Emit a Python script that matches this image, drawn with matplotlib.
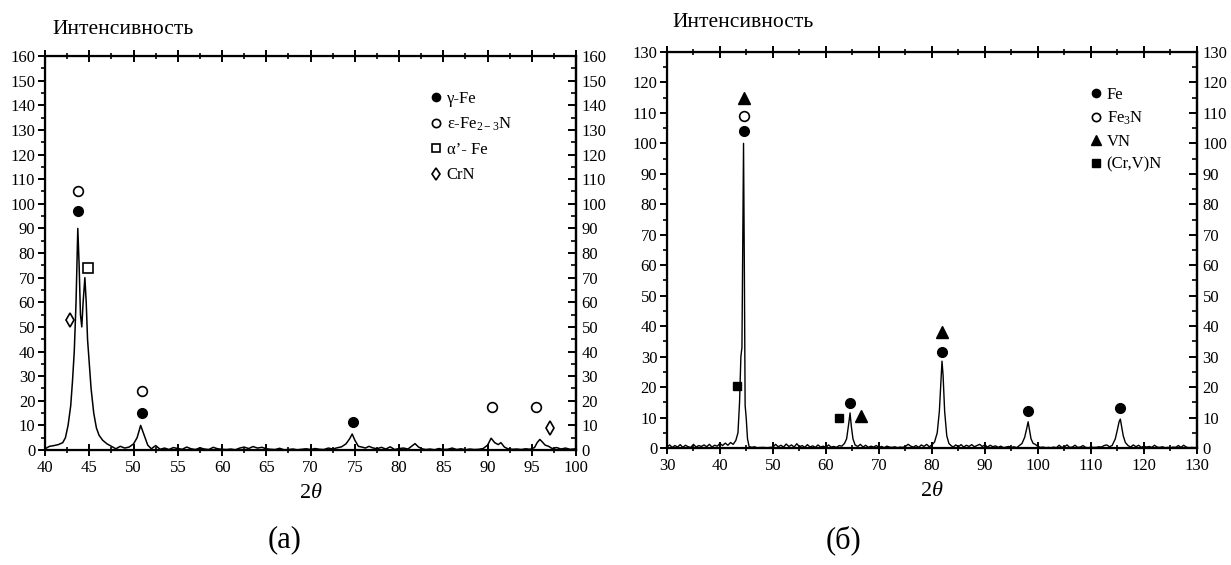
import matplotlib
matplotlib.use("Agg")
import matplotlib.pyplot as plt
from matplotlib.ticker import MultipleLocator

plt.rcParams['font.family'] = ['Liberation Serif', 'DejaVu Serif']
plt.rcParams['mathtext.fontset'] = 'custom'
plt.rcParams['mathtext.rm'] = 'Liberation Serif'
plt.rcParams['mathtext.it'] = 'Liberation Serif:italic'

# ---- (a) pattern, 2theta 40..100
a_x = [40.0, 40.5, 41.0, 41.5, 42.0, 42.3, 42.6, 42.9, 43.1, 43.3, 43.5, 43.7, 43.85, 44.0, 44.15,
       44.3, 44.5, 44.65, 44.8, 45.0, 45.2, 45.5, 45.8, 46.1, 46.5, 47.0, 47.5, 48.0, 48.5, 49.0,
       49.5, 50.0, 50.4, 50.8, 51.2, 51.6, 52.0, 52.5, 53.0, 53.5, 54.0, 54.5, 55.0, 55.5, 56.0,
       56.5, 57.0, 57.5, 58.0, 58.5, 59.0, 59.5, 60.0, 60.5, 61.0, 61.5, 62.0, 62.5, 63.0, 63.5,
       64.0, 64.5, 65.0, 65.5, 66.0, 66.5, 67.0, 67.5, 68.0, 68.5, 69.0, 69.5, 70.0, 70.5, 71.0,
       71.5, 72.0, 72.5, 73.0, 73.5, 74.0, 74.4, 74.7, 75.0, 75.4, 75.8, 76.2, 76.6, 77.0, 77.5,
       78.0, 78.5, 79.0, 79.5, 80.0, 80.5, 81.0, 81.4, 81.8, 82.2, 82.6, 83.0, 83.5, 84.0, 84.5,
       85.0, 85.5, 86.0, 86.5, 87.0, 87.5, 88.0, 88.5, 89.0, 89.5, 90.0, 90.4, 90.8, 91.2, 91.5,
       91.9, 92.3, 92.8, 93.3, 93.8, 94.3, 94.8, 95.3, 95.6, 95.9, 96.2, 96.5, 96.9, 97.3, 97.8,
       98.3, 98.8, 99.3, 100.0]
a_y = [0.5, 1.5, 1.8, 2.2, 3, 5, 10, 18, 28, 40, 60, 90, 75, 55, 50,
       60, 70, 60, 45, 35, 25, 15, 9, 6, 4, 2.5, 1.5, 0.5, 1.5, 0.8,
       1.2, 2.5, 5, 10, 6, 2, 0.5, 1.8, 0.3, 0.8, 0.2, 1.0, 0.6, 0.3, 1.2,
       0.5, 0.2, 0.9, 0.4, 0.2, 1.1, 0.5, 0.3, 0.2, 0.4, 0.1, 0.8, 1.2, 0.6, 1.4,
       0.8, 1.1, 0.5, 0.3, 0.2, 0.7, 0.1, 0.2, 0.4, 0.1, 0.3, 0.5, 0.2, 0.6, 0.3,
       0.2, 0.8, 0.4, 0.9, 1.3, 2.5, 4.5, 6.5, 4, 1.5, 1.2, 0.8, 1.5, 0.9, 0.5,
       1.1, 0.4, 1.3, 0.2, 0.6, 0.8, 0.4, 1.5, 2.6, 1.2, 0.5, 0.2, 0.4, 0.1, 0.6,
       0.2, 0.3, 0.8, 0.2, 0.5, 0.1, 0.4, 0.2, 0.3, 0.6, 2, 4.8, 3, 2.2, 3.0,
       1.2, 0.5, 0.3, 0.4, 0.2, 0.5, 0.3, 1, 3, 4.3, 3.2, 2.0, 1.5, 0.6, 1.0,
       0.4, 0.8, 0.3, 0.5]

# phase markers (a)
gfe_x, gfe_y = [43.7, 51.0, 74.8], [97, 15, 11.5]
efe_x, efe_y = [43.7, 51.0, 90.5, 95.5], [105, 24, 17.5, 17.5]
afe_x, afe_y = [44.9], [74]
crn_x, crn_y = [42.8, 97.0], [53, 9]
a_labels = ['γ-Fe', 'ε-Fe$_{2-3}$N', 'α’- Fe', 'CrN']

# ---- (б) pattern, 2theta 30..130
b_x = [30, 30.5, 31, 31.5, 32, 32.5, 33, 33.5, 34, 34.5, 35, 35.5, 36, 36.5, 37, 37.5, 38, 38.5,
       39, 39.5, 40, 40.5, 41, 41.5, 42, 42.5, 43, 43.4, 43.7, 43.95, 44.15, 44.3, 44.45, 44.6,
       44.75, 44.95, 45.2, 45.5, 46, 46.5, 47, 48, 49, 50, 50.5, 51, 51.5, 52, 52.5, 53, 53.5,
       54, 54.5, 55, 55.5, 56, 56.5, 57, 57.5, 58, 58.5, 59, 59.5, 60, 60.5, 61, 61.5, 62, 62.5,
       63, 63.5, 63.9, 64.3, 64.55, 64.8, 65.1, 65.5, 66, 66.5, 67, 67.5, 68, 68.5, 69, 69.5,
       70, 70.5, 71, 71.5, 72, 72.5, 73, 73.5, 74, 74.5, 75, 75.5, 76, 76.5, 77, 77.5, 78, 78.5,
       79, 79.5, 80, 80.5, 81.0, 81.4, 81.7, 81.9, 82.1, 82.4, 82.8, 83.2, 83.6, 84, 84.5, 85,
       85.5, 86, 86.5, 87, 87.5, 88, 88.5, 89, 89.5, 90, 90.5, 91, 91.5, 92, 92.5, 93, 93.5, 94,
       94.5, 95, 95.5, 96, 96.5, 97, 97.5, 97.9, 98.15, 98.4, 98.7, 99.1, 99.5, 100, 100.5, 101,
       101.5, 102, 102.5, 103, 103.5, 104, 104.5, 105, 105.5, 106, 106.5, 107, 107.5, 108, 108.5,
       109, 109.5, 110, 110.5, 111, 111.5, 112, 112.5, 113, 113.5, 114, 114.6, 115.0, 115.3,
       115.55, 115.8, 116.1, 116.5, 117, 117.5, 118, 118.5, 119, 119.5, 120, 120.5, 121, 121.5,
       122, 122.5, 123, 123.5, 124, 124.5, 125, 125.5, 126, 126.5, 127, 127.5, 128, 128.5, 129,
       130]
b_y = [0.3, 1.0, 0.2, 0.8, 0.3, 1.1, 0.2, 0.9, 0.4, 0.2, 1.2, 0.3, 0.8, 0.5, 1.0, 0.4, 1.2, 0.3,
       0.9, 0.6, 1.5, 0.8, 1.6, 0.9, 1.8, 1.2, 2.5, 5, 15, 30, 33, 65, 100, 60,
       14, 10, 3, 0.5, 0.2, 0.4, 0.1, 0.2, 0.1, 0.3, 1.2, 0.4, 0.9, 0.3, 1.3, 0.5, 1.0,
       0.3, 1.4, 0.4, 0.8, 0.2, 1.1, 0.3, 0.7, 0.2, 1.0, 0.3, 0.6, 0.2, 1.0, 0.3, 0.5, 0.2, 0.8,
       0.6, 1.5, 3, 8, 11.5, 7, 3, 1.0, 0.5, 1.2, 0.3, 0.9, 0.2, 0.6, 0.3, 0.8,
       0.2, 0.5, 0.1, 0.6, 0.3, 0.2, 0.4, 0.1, 0.3, 0.2, 0.5, 1.2, 0.6, 0.3, 0.8, 0.2, 1.0, 0.5,
       1.2, 0.4, 1.0, 2, 5, 12, 22, 28.5, 24, 12, 4, 1.5, 0.8, 0.3, 1.0, 0.4,
       1.1, 0.3, 0.9, 0.5, 1.1, 0.4, 0.8, 1.2, 0.5, 1.0, 0.3, 0.9, 0.4, 0.7, 0.2, 0.6, 0.1, 0.3,
       0.5, 0.2, 0.4, 0.1, 0.8, 1.5, 3.5, 6.5, 8.6, 6, 3, 1.5, 1.2, 0.5, 0.2, 0.3,
       0.1, 0.2, 0.1, 0.3, 0.1, 0.9, 0.2, 0.4, 1.0, 0.2, 0.3, 0.9, 0.2, 0.3, 0.8,
       0.2, 0.1, 0.3, 0.2, 0.2, 0.4, 0.3, 0.8, 1.0, 0.4, 0.8, 3, 6, 8.5,
       9.5, 7, 4, 1.8, 0.8, 0.3, 1.0, 0.4, 0.9, 0.2, 0.6, 0.3, 0.5, 0.2,
       0.9, 0.3, 0.2, 0.4, 0.1, 0.2, 0.1, 0.3, 0.2, 0.8, 0.2, 0.9, 0.3, 0.1, 0.2,
       0.1]

# phase markers (б)
fe_x, fe_y = [44.45, 64.5, 81.9, 98.15, 115.55], [104, 14.7, 31.5, 12.3, 13]
fe3n_x, fe3n_y = [44.45], [109]
vn_x, vn_y = [44.45, 66.6, 81.9], [115, 10.5, 38]
crvn_x, crvn_y = [43.2, 62.5], [20.5, 9.7]
b_labels = ['Fe', 'Fe$_3$N', 'VN', '(Cr,V)N']

fig = plt.figure(figsize=(12.31, 5.65), dpi=100)
ax1 = fig.add_axes([0.0366, 0.2035, 0.4314, 0.6973])
ax2 = fig.add_axes([0.5418, 0.2071, 0.4305, 0.7009])


def style(ax, xmaj, xmin, ymax):
    ax.set_ylim(0, ymax)
    ax.xaxis.set_major_locator(MultipleLocator(xmaj))
    ax.xaxis.set_minor_locator(MultipleLocator(xmin))
    ax.yaxis.set_major_locator(MultipleLocator(10))
    ax.yaxis.set_minor_locator(MultipleLocator(5))
    for s in ax.spines.values():
        s.set_linewidth(1.6)
    # left side: ticks pointing out
    ax.tick_params(axis='y', which='both', left=True, right=False, direction='out',
                   labelsize=12, pad=2)
    ax.tick_params(axis='y', which='major', length=5, width=1.4)
    ax.tick_params(axis='y', which='minor', length=3, width=1.2)
    ax.tick_params(axis='x', which='both', top=True, direction='inout', labelsize=12, pad=3)
    ax.tick_params(axis='x', which='major', length=8, width=1.4)
    ax.tick_params(axis='x', which='minor', length=5, width=1.2)
    ax.set_xlabel('2$\\mathit{\\theta}$', fontsize=16, labelpad=6)
    # right side: same scale, ticks pointing in
    axr = ax.twinx()
    axr.set_ylim(0, ymax)
    axr.yaxis.set_major_locator(MultipleLocator(10))
    axr.yaxis.set_minor_locator(MultipleLocator(5))
    axr.spines['right'].set_linewidth(1.6)
    axr.tick_params(axis='y', which='both', direction='in', labelsize=12, pad=4)
    axr.tick_params(axis='y', which='major', length=6, width=1.4)
    axr.tick_params(axis='y', which='minor', length=3.5, width=1.2)
    return axr


mk = dict(ls='none', color='black', markersize=7)

# (a)
ax1.plot(a_x, a_y, color='black', lw=1.1)
h1 = ax1.plot(gfe_x, gfe_y, marker='o', **mk)[0]
h2 = ax1.plot(efe_x, efe_y, marker='o', mfc='white', mew=1.2, **mk)[0]
h3 = ax1.plot(afe_x, afe_y, marker='s', mfc='white', mew=1.2, **mk)[0]
h4 = ax1.plot(crn_x, crn_y, marker='d', mfc='white', mew=1.2, **mk)[0]
ax1.set_xlim(40, 100)
style(ax1, 5, 2.5, 160)
ax1.legend([h1, h2, h3, h4], a_labels, loc='upper left', bbox_to_anchor=(83.6, 146),
           bbox_transform=ax1.transData, frameon=False, fontsize=12, handlelength=0.6,
           handletextpad=0.35, labelspacing=0.55, borderpad=0, borderaxespad=0, markerscale=0.85)

# (б)
ax2.plot(b_x, b_y, color='black', lw=1.0)
g1 = ax2.plot(fe_x, fe_y, marker='o', **mk)[0]
g2 = ax2.plot(fe3n_x, fe3n_y, marker='o', mfc='white', mew=1.2, **mk)[0]
g3 = ax2.plot(vn_x, vn_y, marker='^', markersize=9, ls='none', color='black')[0]
g4 = ax2.plot(crvn_x, crvn_y, marker='s', ls='none', color='black', markersize=6)[0]
ax2.set_xlim(30, 130)
style(ax2, 10, 5, 130)
ax2.legend([g1, g2, g3, g4], b_labels, loc='upper left', bbox_to_anchor=(110.0, 118.5),
           bbox_transform=ax2.transData, frameon=False, fontsize=12, handlelength=0.6,
           handletextpad=0.35, labelspacing=0.4, borderpad=0, borderaxespad=0, markerscale=0.85)

fig.text(0.043, 0.947, 'Интенсивность', fontsize=15.5, va='center', ha='left')
fig.text(0.546, 0.961, 'Интенсивность', fontsize=15.5, va='center', ha='left')
fig.text(0.2315, 0.044, '(a)', fontsize=22, ha='center', va='center')
fig.text(0.685, 0.044, '(б)', fontsize=22, ha='center', va='center')

plt.savefig('out.png', dpi=100)
